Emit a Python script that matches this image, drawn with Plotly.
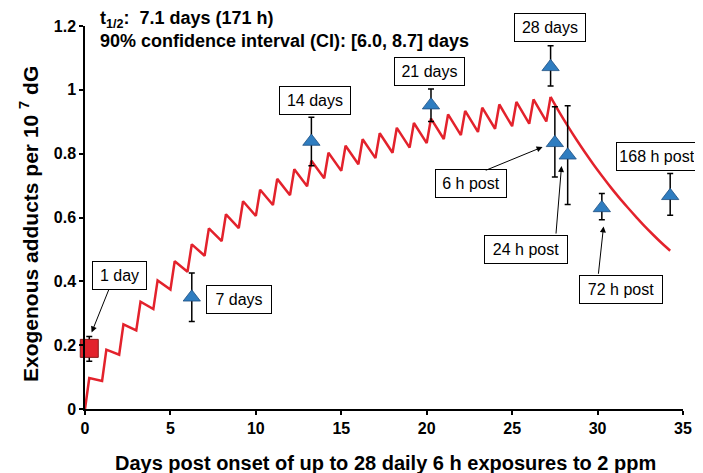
import plotly.graph_objects as go

# ---- data ----
exposure_days = list(range(28))            # daily 6 h exposures, day 0..27
peak_values = [0.097, 0.186, 0.265, 0.336, 0.403, 0.463, 0.516, 0.566, 0.610, 0.651,
               0.687, 0.721, 0.751, 0.778, 0.803, 0.825, 0.845, 0.864, 0.881, 0.896,
               0.910, 0.923, 0.934, 0.944, 0.954, 0.962, 0.970, 0.978]
trough_values = [0.088, 0.170, 0.246, 0.313, 0.374, 0.430, 0.480, 0.526, 0.567, 0.605,
                 0.639, 0.670, 0.698, 0.723, 0.746, 0.767, 0.786, 0.803, 0.819, 0.833,
                 0.846, 0.858, 0.868, 0.878, 0.886, 0.894, 0.901]
decay_days = [27.25, 27.75, 28.25, 28.75, 29.25, 29.75, 30.25, 30.75, 31.25, 31.75,
              32.25, 32.75, 33.25, 33.75, 34.25]
decay_values = [0.978, 0.931, 0.887, 0.845, 0.805, 0.767, 0.731, 0.696, 0.663, 0.632,
                0.602, 0.573, 0.546, 0.520, 0.496]

day1_x = [0.25]
day1_y = [0.19]
day1_plus = [0.037]
day1_minus = [0.040]

obs_x = [6.25, 13.25, 20.25, 27.25, 27.5, 28.25, 30.25, 34.25]
obs_y = [0.350, 0.838, 0.952, 1.072, 0.834, 0.795, 0.630, 0.668]
obs_plus = [0.076, 0.076, 0.051, 0.066, 0.113, 0.155, 0.045, 0.070]
obs_minus = [0.076, 0.076, 0.051, 0.060, 0.107, 0.154, 0.037, 0.061]

x_ticks = [0, 5, 10, 15, 20, 25, 30, 35]
y_ticks = [0, 0.2, 0.4, 0.6, 0.8, 1.0, 1.2]
y_tick_labels = ["0", "0.2", "0.4", "0.6", "0.8", "1", "1.2"]

# label boxes: text, x, y
box_labels = ["1 day", "7 days", "14 days", "21 days", "28 days",
              "6 h post", "24 h post", "72 h post", "168 h post"]
box_x = [2.0, 9.0, 13.47, 20.15, 27.19, 22.6, 25.79, 31.4, 33.5]
box_y = [0.419, 0.342, 0.968, 1.056, 1.195, 0.705, 0.501, 0.375, 0.792]
box_w = [55, 66, 72, 71, 72, 72, 84, 84, 82]

# arrows: tail (x, y) -> tip (x, y)
arrow_tail_x = [1.43, 23.37, 27.56, 30.04]
arrow_tail_y = [0.379, 0.746, 0.545, 0.419]
arrow_tip_x = [0.39, 26.78, 27.89, 30.35]
arrow_tip_y = [0.240, 0.821, 0.761, 0.572]

# ---- build the model line ----
line_x = [0.0]
line_y = [0.0]
for i, d in enumerate(exposure_days):
    line_x.append(d + 0.25)
    line_y.append(peak_values[i])
    if i < len(trough_values):
        line_x.append(d + 1)
        line_y.append(trough_values[i])

FONT = "Liberation Sans, Arial, sans-serif"
RED = "#E3222C"
BLUE = "#2F7DC0"

W, H = 703, 473
L, R, T, B = 77, 28, 18, 72
pw, ph = W - L - R, H - T - B


def px_x(p):
    return (p - L) / pw


def px_y(p):
    return (H - B - p) / ph


fig = go.Figure()
fig.add_trace(go.Scatter(x=line_x, y=line_y, mode="lines",
                         line=dict(color=RED, width=2.5), showlegend=False,
                         cliponaxis=False))
fig.add_trace(go.Scatter(x=decay_days, y=decay_values, mode="lines",
                         line=dict(color=RED, width=2.5, shape="spline"),
                         showlegend=False))
fig.add_trace(go.Scatter(
    x=day1_x, y=day1_y, mode="markers",
    marker=dict(symbol="square", size=18, color=RED,
                line=dict(color="#8B1A1A", width=1)),
    error_y=dict(type="data", symmetric=False, array=day1_plus,
                 arrayminus=day1_minus, color="black", thickness=1.5, width=3),
    showlegend=False, cliponaxis=False))
fig.add_trace(go.Scatter(
    x=obs_x, y=obs_y, mode="markers",
    marker=dict(symbol="triangle-up", size=15, color=BLUE,
                line=dict(color="#1F4F80", width=0.8)),
    error_y=dict(type="data", symmetric=False, array=obs_plus,
                 arrayminus=obs_minus, color="black", thickness=1.5, width=3),
    showlegend=False, cliponaxis=False))

annotations = []
for t, x, y, w in zip(box_labels, box_x, box_y, box_w):
    annotations.append(dict(
        x=x, y=y, xref="x", yref="y", text=t, showarrow=False,
        font=dict(family=FONT, size=16, color="black"),
        bgcolor="white", bordercolor="black", borderwidth=1, borderpad=3,
        width=w - 8, height=21, align="center", valign="middle"))
for tx, ty, hx, hy in zip(arrow_tail_x, arrow_tail_y, arrow_tip_x, arrow_tip_y):
    annotations.append(dict(
        x=hx, y=hy, ax=tx, ay=ty, xref="x", yref="y", axref="x", ayref="y",
        text="", showarrow=True, arrowhead=2, arrowsize=1.2, arrowwidth=1,
        arrowcolor="black", standoff=0, startstandoff=0))

annotations.append(dict(
    x=px_x(90), y=px_y(12), xref="paper", yref="paper", xanchor="left", yanchor="middle",
    text="<b>t<sub>1/2</sub>: &nbsp;7.1 days (171 h)</b>", showarrow=False,
    font=dict(family=FONT, size=18, color="black")))
annotations.append(dict(
    x=px_x(90), y=px_y(33), xref="paper", yref="paper", xanchor="left", yanchor="middle",
    text="<b>90% confidence interval (CI): [6.0, 8.7] days</b>", showarrow=False,
    font=dict(family=FONT, size=18, color="black")))
# axis titles
annotations.append(dict(
    x=px_x(377), y=px_y(455), xref="paper", yref="paper", xanchor="center", yanchor="middle",
    text="<b>Days post onset of up to 28 daily 6 h exposures to 2 ppm</b>", showarrow=False,
    font=dict(family=FONT, size=20, color="black")))
annotations.append(dict(
    x=px_x(21), y=px_y(216), xref="paper", yref="paper", xanchor="center", yanchor="middle",
    textangle=-90,
    text="<b>Exogenous adducts per 10 <sup>7</sup> dG</b>", showarrow=False,
    font=dict(family=FONT, size=21, color="black")))

fig.update_layout(
    width=W, height=H,
    margin=dict(l=L, r=R, t=T, b=B, autoexpand=False),
    paper_bgcolor="white", plot_bgcolor="white",
    font=dict(family=FONT, color="black"),
    annotations=annotations,
    xaxis=dict(range=[0, 35], tickvals=x_ticks, showgrid=False, zeroline=False,
               showline=True, linecolor="black", linewidth=1.5,
               ticks="outside", ticklen=4, tickwidth=1.5, tickcolor="black",
               tickfont=dict(family=FONT, size=16, color="black", weight="bold")),
    yaxis=dict(range=[0, 1.2], tickvals=y_ticks, ticktext=y_tick_labels,
               showgrid=False, zeroline=False,
               showline=True, linecolor="black", linewidth=1.5,
               ticks="outside", ticklen=4, tickwidth=1.5, tickcolor="black",
               tickfont=dict(family=FONT, size=16, color="black", weight="bold")),
)

fig.write_html("out.html")
